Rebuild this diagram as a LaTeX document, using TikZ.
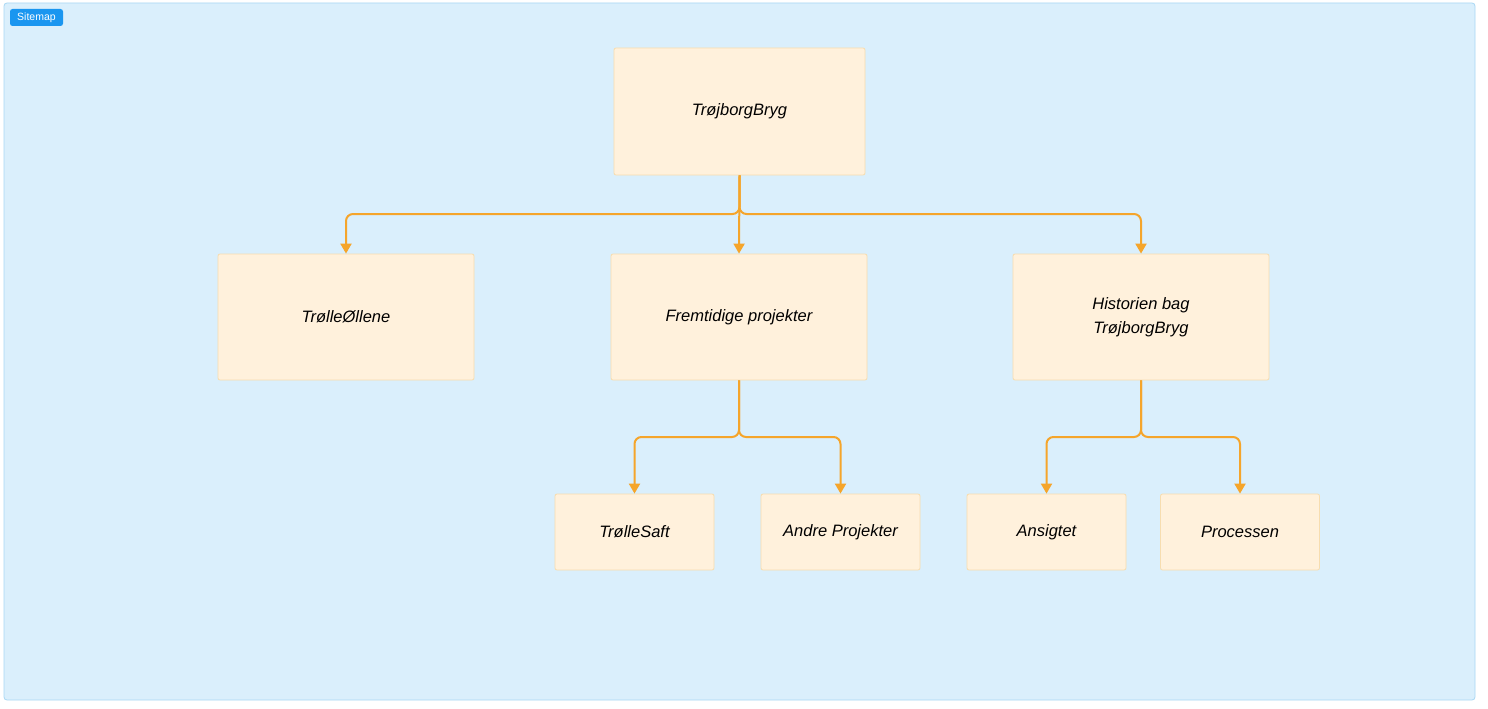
\documentclass[tikz,border=0pt]{standalone}
\usepackage{fontspec}
\setmainfont{Liberation Sans}
\usetikzlibrary{arrows.meta}
\definecolor{framefill}{HTML}{DAEFFC}
\definecolor{frameline}{HTML}{A9D8F5}
\definecolor{tagfill}{HTML}{1A96F0}
\definecolor{boxfill}{HTML}{FFF1DC}
\definecolor{boxline}{HTML}{F7DDAF}
\definecolor{arrowc}{HTML}{F5A52B}
\begin{document}
\begin{tikzpicture}[x=1pt,y=-1pt,
  card/.style={draw=boxline,fill=boxfill,rounded corners=2pt,line width=0.8pt,
    font=\fontsize{16.5}{24}\selectfont\itshape,align=center,inner sep=0pt},
  conn/.style={draw=arrowc,line width=2pt,rounded corners=7pt,
    -{Triangle[length=10pt,width=11pt]}}]
\useasboundingbox (0,0) rectangle (1488,709);
\fill[white] (0,0) rectangle (1488,709);
\draw[frameline,fill=framefill,rounded corners=3pt,line width=0.8pt] (4,3) rectangle (1475,700);
\node[fill=tagfill,text=white,rounded corners=2.5pt,minimum width=53pt,minimum height=17pt,inner sep=0pt,
  font=\fontsize{10.5}{12}\selectfont] (tag) at (36.5,17.5) {Sitemap};

\node[card,minimum width=251pt,minimum height=127pt] (root) at (739.5,111.5) {TrøjborgBryg};
\node[card,minimum width=256pt,minimum height=126pt] (a) at (346,317) {TrølleØllene};
\node[card,minimum width=256pt,minimum height=126pt] (b) at (739,317) {Fremtidige projekter};
\node[card,minimum width=256pt,minimum height=126pt] (c) at (1141,317) {Historien bag\\TrøjborgBryg};
\node[card,minimum width=159pt,minimum height=76pt] (b1) at (634.5,532) {TrølleSaft};
\node[card,minimum width=159pt,minimum height=76pt] (b2) at (840.5,532) {Andre Projekter};
\node[card,minimum width=159pt,minimum height=76pt] (c1) at (1046.5,532) {Ansigtet};
\node[card,minimum width=159pt,minimum height=76pt] (c2) at (1240,532) {Processen};

\coordinate (j0) at (739.5,214);
\coordinate (j1) at (739,437);
\coordinate (j2) at (1141,437);

\draw[conn] (root.south) -- (j0) -| (a.north);
\draw[conn] (root.south) -- (b.north);
\draw[conn] (root.south) -- (j0) -| (c.north);
\draw[conn] (b.south) -- (j1) -| (b1.north);
\draw[conn] (b.south) -- (j1) -| (b2.north);
\draw[conn] (c.south) -- (j2) -| (c1.north);
\draw[conn] (c.south) -- (j2) -| (c2.north);
\end{tikzpicture}
\end{document}
